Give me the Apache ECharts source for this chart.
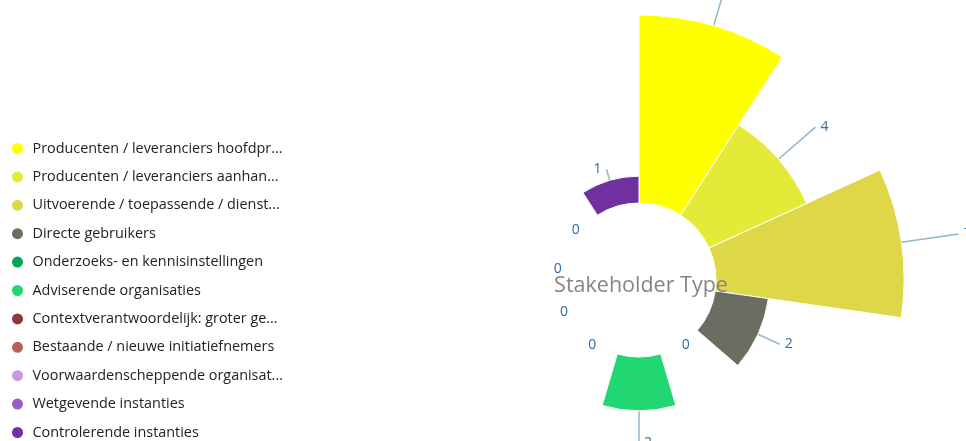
<!DOCTYPE html>
<html>
<head>
<meta charset="utf-8">
<script src="https://cdn.jsdelivr.net/npm/echarts@6/dist/echarts.min.js"></script>
<style>
html,body{margin:0;padding:0;background:#fff;}
#chart{width:966px;height:441px;}
</style>
</head>
<body>
<div id="chart"></div>
<script>
const categories = [
  "Producenten / leveranciers hoofdproducten",
  "Producenten / leveranciers aanhangende producten",
  "Uitvoerende / toepassende / dienstverlenende bedrijven",
  "Directe gebruikers",
  "Onderzoeks- en kennisinstellingen",
  "Adviserende organisaties",
  "Contextverantwoordelijk: groter geheel",
  "Bestaande / nieuwe initiatiefnemers",
  "Voorwaardenscheppende organisaties",
  "Wetgevende instanties",
  "Controlerende instanties"
];
const values = [7, 4, 7, 2, 0, 2, 0, 0, 0, 0, 1];
const colors = ["#FFFF00", "#E3EB38", "#DED848", "#6C6D61", "#00A651", "#22D672",
                "#8E3838", "#BC5E5E", "#C49BDF", "#9B5BC9", "#7030A0"];
const chartTitle = "Stakeholder Type";

const FONT = "'Open Sans', 'Noto Sans', sans-serif";
const R0 = 77, R = 265;
const maxV = Math.max(...values);
const n = categories.length;
function pointsDown(i) {
  const mid = (90 - (i + 0.5) * 360 / n) * Math.PI / 180;
  return Math.sin(mid) < -0.99;
}
// ECharts ends all rose label lines at R + length; compensate so each line
// starts at its own sector edge with a length that grows with the value.
function lineLen(v, i) {
  let wanted = v > 0 ? Math.min(58, 12.5 * v - 1) : 0;
  if (v > 0 && pointsDown(i)) wanted += 8;
  const sectorR = R0 + (R - R0) * v / maxV;
  return wanted + sectorR - R;
}
const chart = echarts.init(document.getElementById('chart'));
const data = categories.map((name, i) => ({
  name: name,
  value: values[i],
  itemStyle: { color: colors[i] },
  labelLine: { length: lineLen(values[i], i), length2: 0, show: values[i] > 0 },
  label: { distanceToLabelLine: values[i] > 0 ? 5 : 1 }
}));
chart.setOption({
  animation: false,
  title: {
    text: chartTitle,
    left: 636, top: 281,
    textAlign: 'center', textVerticalAlign: 'middle',
    textStyle: { fontFamily: FONT, fontSize: 21.5, fontWeight: 'normal', color: '#858585' },
    z: 10
  },
  legend: {
    orient: 'vertical',
    left: 10, top: 141,
    height: 330,
    padding: 0,
    icon: 'circle',
    itemWidth: 20, itemHeight: 13,
    itemGap: 13.4,
    textStyle: {
      fontFamily: FONT, fontSize: 14.4, color: '#222222',
      width: 254, overflow: 'truncate', ellipsis: '...'
    },
    data: categories
  },
  series: [{
    type: 'pie',
    roseType: 'area',
    center: [639, 280],
    radius: [R0, R],
    startAngle: 90,
    clockwise: true,
    avoidLabelOverlap: false,
    itemStyle: { borderColor: '#fff', borderWidth: 1 },
    label: {
      show: true, position: 'outside',
      formatter: '{c}',
      fontFamily: FONT, fontSize: 14, color: '#2e6bab'
    },
    labelLine: { lineStyle: { color: '#8fb6d2', width: 1.5 } },
    emphasis: { disabled: true },
    data: data
  }]
});
</script>
</body>
</html>
